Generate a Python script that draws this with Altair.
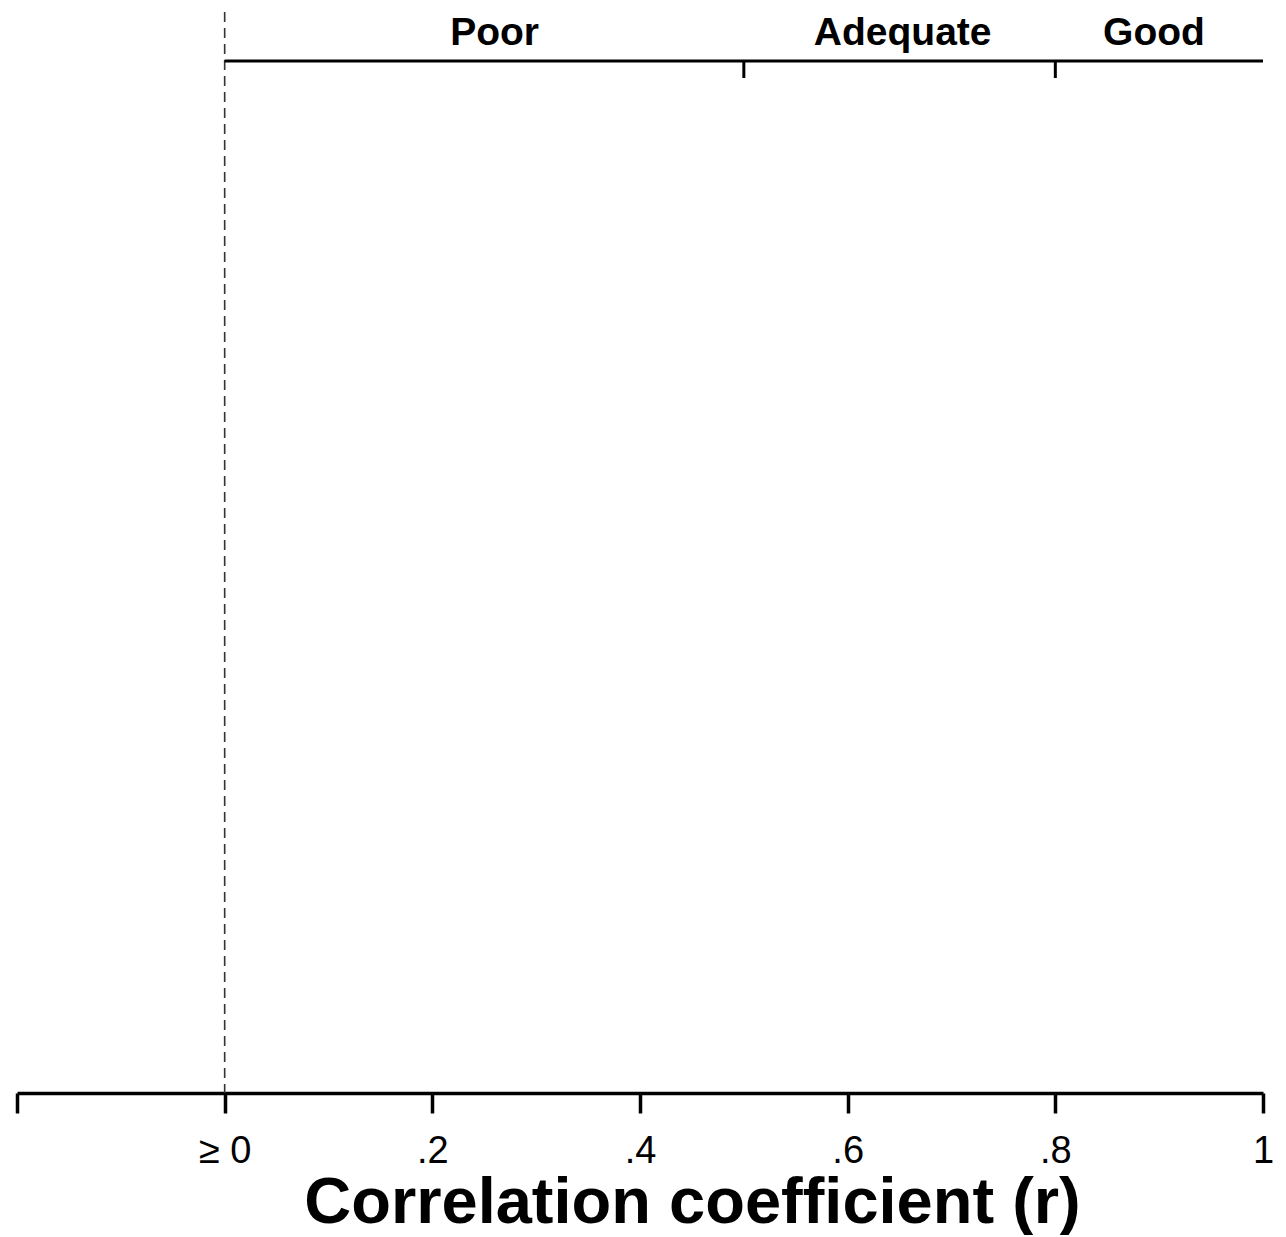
import json
import altair as alt
import pandas as pd

# ---- data ----
tick_values = [-0.2, 0, 0.2, 0.4, 0.6, 0.8, 1]
tick_labels = ["", "≥ 0", ".2", ".4", ".6", ".8", "1"]
ref_x = [0]
band_span = [0, 1]
band_breaks = [0.5, 0.8]
band_names = ["Poor", "Adequate", "Good"]
band_label_x = [0.26, 0.653, 0.895]

FONT = "Liberation Sans"
xscale = alt.Scale(domain=[-0.2, 1], nice=False, zero=False)

label_expr = "[{}][indexof([{}], datum.value)]".format(
    ",".join(json.dumps(s) for s in tick_labels),
    ",".join(str(v) for v in tick_values),
)

xaxis = alt.Axis(
    values=tick_values,
    labelExpr=label_expr,
    grid=False,
    domainColor="black",
    domainWidth=3.5,
    tickColor="black",
    tickWidth=3.5,
    tickSize=20,
    labelFont=FONT,
    labelFontSize=38,
    labelColor="black",
    labelPadding=19,
    labelFlush=False,
    labelOverlap=False,
    title="Correlation coefficient (r)",
    titleFont=FONT,
    titleFontSize=65,
    titleFontWeight="bold",
    titleColor="black",
    titleX=675,
    titleY=129,
    titleAlign="center",
    titleBaseline="alphabetic",
)

ref_df = pd.DataFrame({"x": ref_x})
span_df = pd.DataFrame({"x": [band_span[0]], "x1": [band_span[1]]})
breaks_df = pd.DataFrame({"x": band_breaks})
names_df = pd.DataFrame({"x": band_label_x, "name": band_names})

dashed = alt.Chart(ref_df).mark_rule(
    color="#333333", strokeWidth=1.6, strokeDash=[10, 6]
).encode(
    x=alt.X("x:Q", scale=xscale, axis=xaxis)
)

top_line = alt.Chart(span_df).mark_rule(color="black", strokeWidth=3).encode(
    x=alt.X("x:Q", scale=xscale, axis=xaxis),
    x2="x1:Q",
    y=alt.value(49),
)

top_ticks = alt.Chart(breaks_df).mark_rule(color="black", strokeWidth=3).encode(
    x=alt.X("x:Q", scale=xscale, axis=xaxis),
    y=alt.value(49),
    y2=alt.value(66),
)

top_text = alt.Chart(names_df).mark_text(
    font=FONT, fontSize=39, fontWeight="bold", baseline="alphabetic",
    align="center", color="black"
).encode(
    x=alt.X("x:Q", scale=xscale, axis=xaxis),
    y=alt.value(33),
    text="name:N",
)

chart = alt.layer(dashed, top_line, top_ticks, top_text).properties(
    width=1246,
    height=1081,
    padding={"left": 9, "top": 4, "right": 15, "bottom": 142},
    autosize=alt.AutoSizeParams(type="none"),
).configure_view(stroke=None)

chart.save("out.html", embed_options={"renderer": "svg", "actions": False})
